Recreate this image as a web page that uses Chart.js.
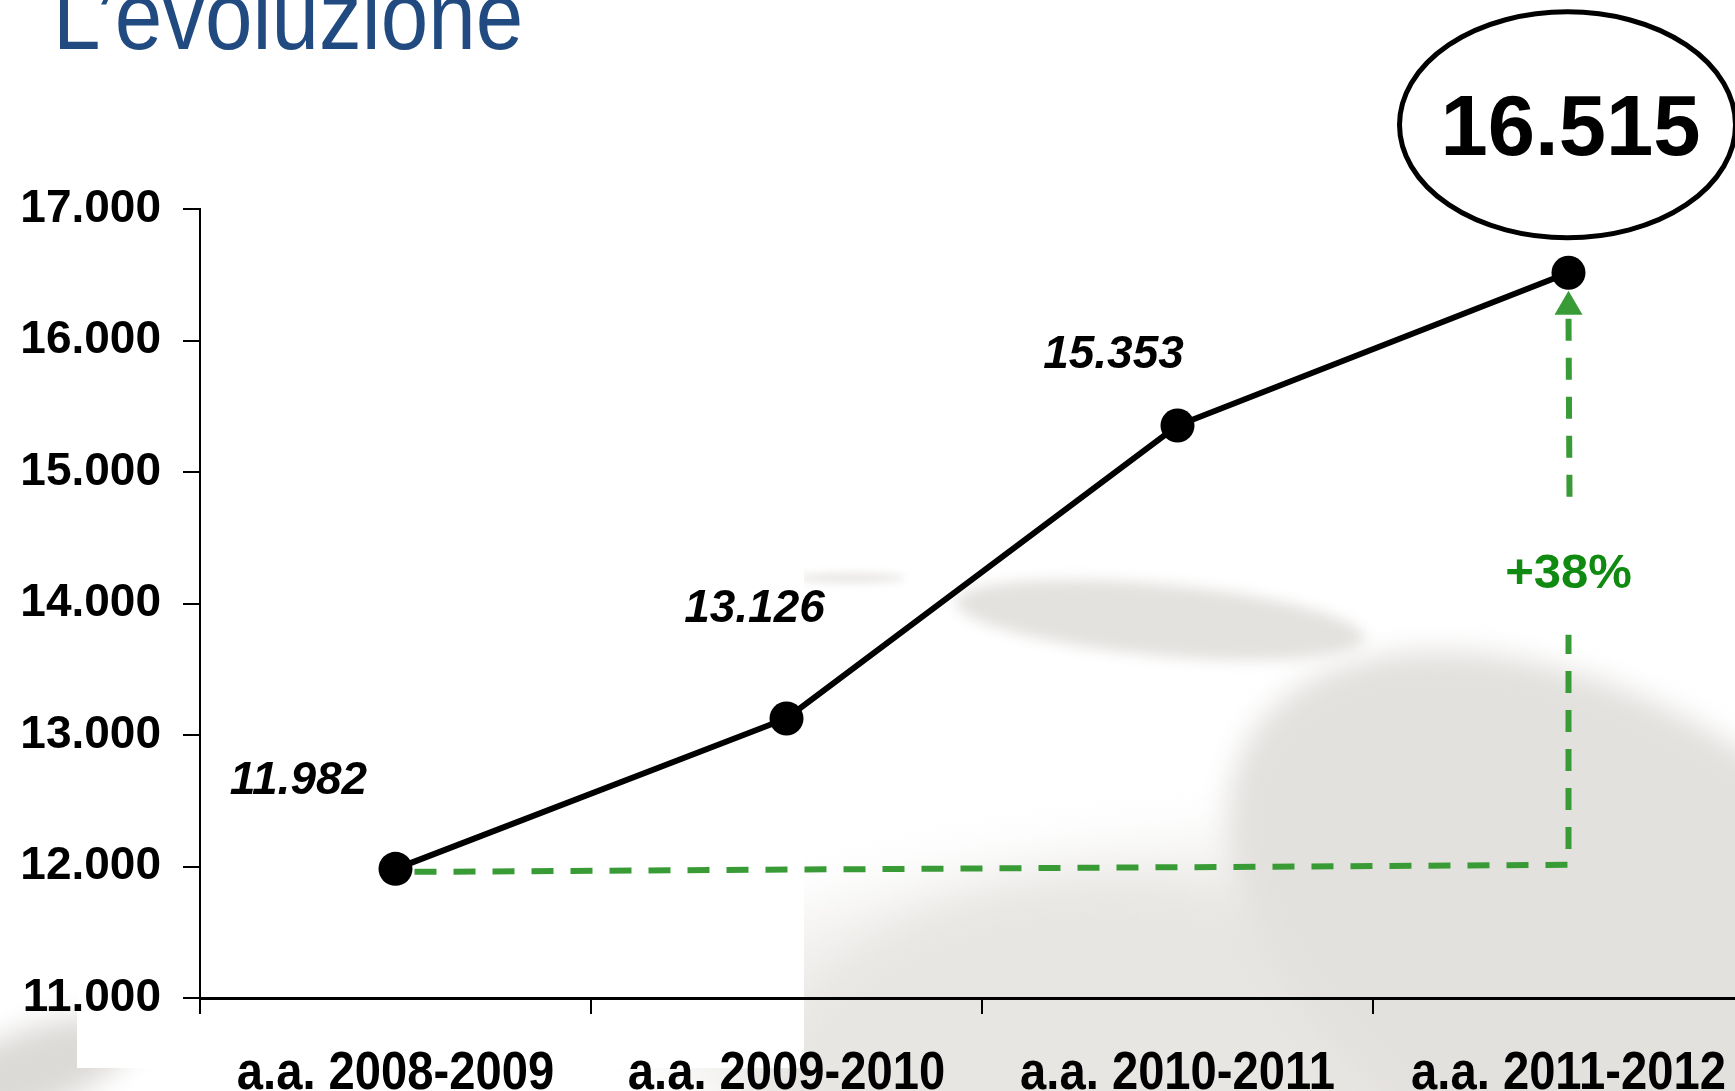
<!DOCTYPE html>
<html>
<head>
<meta charset="utf-8">
<script src="https://cdn.jsdelivr.net/npm/chart.js@4"></script>
<style>
  html, body { margin: 0; padding: 0; width: 1735px; height: 1091px; overflow: hidden; background: #fff; }
  #wrap { position: absolute; left: 0; top: 0; width: 1781px; height: 1091px; }
  #title { position: absolute; left: 53px; top: -34px; font-family: "Liberation Sans", Arial, sans-serif; font-size: 96px; line-height: 100px; color: #214b80; white-space: nowrap; z-index: 2; transform: scaleX(0.89); transform-origin: 0 0; }
</style>
</head>
<body>
<div id="wrap"><canvas id="c"></canvas></div>
<div id="title">L’evoluzione</div>
<script>
// ---- data ----
const categories = ['a.a. 2008-2009', 'a.a. 2009-2010', 'a.a. 2010-2011', 'a.a. 2011-2012'];
const iscritti = [11982, 13126, 15353, 16515];
const valueLabels = ['11.982', '13.126', '15.353', '16.515'];
const yTicks = [11000, 12000, 13000, 14000, 15000, 16000, 17000];
const growthLabel = '+38%';

const SANS = '"Liberation Sans", Arial, sans-serif';

function fmt(v) { return String(v).replace(/\B(?=(\d{3})+(?!\d))/g, '.'); }

const bgPlugin = {
  id: 'bg',
  beforeDraw(chart) {
    const ctx = chart.ctx;
    ctx.save();
    ctx.fillStyle = '#ffffff';
    ctx.fillRect(0, 0, chart.width, chart.height);
    const blob = (cx, cy, rx, ry, rot, col, blur) => {
      ctx.save();
      ctx.filter = 'blur(' + blur + 'px)';
      ctx.fillStyle = col;
      ctx.beginPath();
      ctx.ellipse(cx, cy, rx, ry, rot, 0, Math.PI * 2);
      ctx.fill();
      ctx.restore();
    };
    blob(1250, 1000, 600, 160, -0.05, '#f1f0ee', 30);
    blob(1110, 1140, 370, 260, 0, '#e8e6e3', 18);
    blob(1600, 950, 410, 245, 0.55, '#e3e1de', 14);
    blob(1160, 620, 205, 36, 0.09, '#e4e2df', 7);
    blob(850, 578, 55, 5, 0.0, '#e8e6e4', 4);
    blob(30, 1070, 110, 40, -0.35, '#dcdad7', 14);
    ctx.fillStyle = '#ffffff';
    ctx.fillRect(77, 0, 727, 1068);
    ctx.restore();
  }
};

const annoPlugin = {
  id: 'anno',
  afterDatasetsDraw(chart) {
    const ctx = chart.ctx;
    const pts = chart.getDatasetMeta(0).data;
    const p0 = pts[0], p3 = pts[3];
    ctx.save();
    // green dashed growth path
    const green = '#389b35';
    ctx.strokeStyle = green;
    ctx.lineWidth = 6;
    ctx.setLineDash([22, 17]);
    ctx.beginPath();
    ctx.moveTo(p0.x + 19, p0.y + 3);
    ctx.lineTo(p3.x, p0.y - 4);
    ctx.lineTo(p3.x, p3.y + 362);
    ctx.stroke();
    ctx.beginPath();
    ctx.moveTo(p3.x + 1, p3.y + 224);
    ctx.lineTo(p3.x, p3.y + 42);
    ctx.stroke();
    ctx.setLineDash([]);
    // arrow head
    ctx.fillStyle = green;
    ctx.beginPath();
    ctx.moveTo(p3.x, p3.y + 18);
    ctx.lineTo(p3.x - 14, p3.y + 42);
    ctx.lineTo(p3.x + 14, p3.y + 42);
    ctx.closePath();
    ctx.fill();
    // growth label
    ctx.fillStyle = '#118a11';
    ctx.font = 'bold 49px ' + SANS;
    ctx.textAlign = 'center';
    ctx.textBaseline = 'alphabetic';
    ctx.fillText(growthLabel, p3.x, p3.y + 298 + 17);
    // value labels for first three points
    const offs = [[-97, -91], [-32, -112], [-64, -74]];
    ctx.fillStyle = '#000';
    ctx.font = 'italic bold 46px ' + SANS;
    for (let i = 0; i < 3; i++) {
      ctx.fillText(valueLabels[i], pts[i].x + offs[i][0], pts[i].y + offs[i][1] + 16);
    }
    // ellipse with last value
    const ex = p3.x - 1, ey = p3.y - 148;
    ctx.fillStyle = '#fff';
    ctx.strokeStyle = '#000';
    ctx.lineWidth = 5;
    ctx.beginPath();
    ctx.ellipse(ex, ey, 168, 113, 0, 0, Math.PI * 2);
    ctx.fill();
    ctx.stroke();
    ctx.fillStyle = '#000';
    ctx.font = 'bold 85px ' + SANS;
    ctx.fillText(valueLabels[3], ex + 3, ey + 30);
    ctx.restore();
  },
  afterDraw(chart) {
    // condensed category labels under the x axis, placed by the category scale
    const ctx = chart.ctx;
    const xs = chart.scales.x;
    const labels = xs.getLabels();
    ctx.save();
    ctx.fillStyle = '#000';
    ctx.font = 'bold 53px ' + SANS;
    ctx.textAlign = 'center';
    ctx.textBaseline = 'alphabetic';
    labels.forEach((lab, i) => {
      const x = xs.getPixelForTick(i);
      ctx.save();
      ctx.translate(x, xs.top + 91);
      ctx.scale(0.89, 1);
      ctx.fillText(lab, 0, 0);
      ctx.restore();
    });
    ctx.restore();
  }
};

new Chart(document.getElementById('c'), {
  type: 'line',
  data: {
    labels: categories,
    datasets: [{
      data: iscritti,
      borderColor: '#000',
      backgroundColor: '#000',
      borderWidth: 6,
      pointRadius: 17,
      pointHoverRadius: 17,
      pointBackgroundColor: '#000',
      pointBorderWidth: 0,
      tension: 0,
      fill: false
    }]
  },
  options: {
    responsive: true,
    maintainAspectRatio: false,
    animation: false,
    events: [],
    layout: { padding: { top: 209, left: 0, right: 0, bottom: 0 } },
    plugins: { legend: { display: false }, tooltip: { enabled: false }, title: { display: false } },
    scales: {
      x: {
        offset: true,
        grid: { display: true, drawOnChartArea: false, drawTicks: true, tickLength: 16, color: '#000', lineWidth: 2, offset: true },
        border: { display: true, color: '#000', width: 3 },
        ticks: { display: false },
        afterFit(s) { s.height = 93; }
      },
      y: {
        min: 11000,
        max: 17000,
        afterBuildTicks(s) { s.ticks = yTicks.map(v => ({ value: v })); },
        grid: { display: true, drawOnChartArea: false, drawTicks: true, tickLength: 17, color: '#000', lineWidth: 2 },
        border: { display: true, color: '#000', width: 2 },
        ticks: { color: '#000', font: { family: SANS, size: 46, weight: 'bold' }, padding: 22, callback: v => fmt(v) },
        afterFit(s) { s.width = 200; }
      }
    }
  },
  plugins: [bgPlugin, annoPlugin]
});
</script>
</body>
</html>
